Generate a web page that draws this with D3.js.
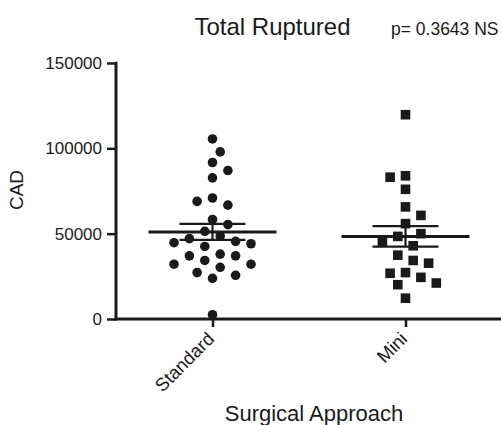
<!DOCTYPE html>
<html>
<head>
<meta charset="utf-8">
<script src="https://cdn.jsdelivr.net/npm/d3@7"></script>
<style>
  html, body { margin: 0; padding: 0; background: #fff; }
  svg { display: block; font-family: "Liberation Sans", Arial, Helvetica, sans-serif; }
</style>
</head>
<body>
<div id="chart"></div>
<script>
// ---------------- data ----------------
const categories = ["Standard", "Mini"];
const standardValues = [105500, 97900, 91700, 87000, 82700, 70900, 68900, 66700, 58300, 55300,
  51400, 48600, 47100, 45500, 44700, 44100, 42500, 38000, 37000, 37000, 34300, 32100, 32100,
  30300, 27200, 25600, 23800, 2500];
const miniValues = [119700, 83900, 83100, 76000, 65700, 60700, 55900, 50000, 48400, 45100,
  42900, 37400, 34300, 32700, 27200, 26800, 24400, 21100, 20100, 12200];
const yTicks = [0, 50000, 100000, 150000];
const titleText = "Total Ruptured";
const pText = "p= 0.3643 NS";
const yLabel = "CAD";
const xLabel = "Surgical Approach";

// ---------------- layout ----------------
const W = 501, H = 425;
const ink = "#1a1a1a";
const svg = d3.select("#chart").append("svg").attr("width", W).attr("height", H);

const x = d3.scalePoint().domain(categories).range([116, 502]).padding(0.5);
const y = d3.scaleLinear().domain([0, 150000]).range([319, 63]);

// y axis
const yAxis = d3.axisLeft(y).tickValues(yTicks).tickSize(9).tickPadding(5).tickFormat(d3.format("d"));
const gy = svg.append("g").attr("transform", "translate(116,0)").call(yAxis);
gy.select(".domain").remove();
gy.selectAll(".tick line").attr("stroke", ink).attr("stroke-width", 2.5);
gy.selectAll(".tick text").attr("fill", ink).style("font-size", "17px");
svg.append("line").attr("x1", 116).attr("x2", 116).attr("y1", y(150000) - 1.25).attr("y2", y(0) + 1.5)
  .attr("stroke", ink).attr("stroke-width", 3);

// x axis
const xAxis = d3.axisBottom(x).tickSize(8).tickFormat("");
const gx = svg.append("g").attr("transform", `translate(0,${y(0)})`).call(xAxis);
gx.select(".domain").remove();
gx.selectAll(".tick line").attr("stroke", ink).attr("stroke-width", 2.5);
svg.append("line").attr("x1", 114.5).attr("x2", W).attr("y1", y(0)).attr("y2", y(0))
  .attr("stroke", ink).attr("stroke-width", 3);

// rotated category labels
categories.forEach(c => {
  svg.append("text")
    .attr("transform", `translate(${x(c) + 3},${y(0) + 21}) rotate(-45)`)
    .attr("text-anchor", "end")
    .attr("fill", ink)
    .style("font-size", "18.5px")
    .text(c);
});

// titles
svg.append("text").attr("x", 272.5).attr("y", 35).attr("text-anchor", "middle")
  .attr("fill", ink).style("font-size", "24px").text(titleText);
svg.append("text").attr("x", 391).attr("y", 35).attr("text-anchor", "start")
  .attr("fill", ink).style("font-size", "17.5px").text(pText);
svg.append("text").attr("transform", "translate(23,190) rotate(-90)").attr("text-anchor", "middle")
  .attr("fill", ink).style("font-size", "19px").text(yLabel);
svg.append("text").attr("x", 314).attr("y", 421).attr("text-anchor", "middle")
  .attr("fill", ink).style("font-size", "22px").text(xLabel);

// ---------------- beeswarm layout ----------------
function swarm(values, cx, d, step) {
  const order = values.map((v, i) => ({ v, i })).sort((a, b) => b.v - a.v);
  const placed = [];
  order.forEach((o, n) => {
    const py = y(o.v);
    const sign = n % 2 ? 1 : -1;
    for (let k = 0; k < 40; k++) {
      const off = k === 0 ? 0 : (k % 2 ? sign : -sign) * Math.ceil(k / 2);
      const px = cx + off * step;
      const ok = placed.every(p => Math.hypot(p.x - px, p.y - py) >= d);
      if (ok) { placed.push({ x: px, y: py, v: o.v }); break; }
    }
  });
  return placed;
}

// mean and SEM lines
function meanSem(values, cx) {
  const m = d3.mean(values);
  const sem = d3.deviation(values) / Math.sqrt(values.length);
  const g = svg.append("g").attr("stroke", ink);
  g.append("line").attr("x1", cx - 64).attr("x2", cx + 64).attr("y1", y(m)).attr("y2", y(m)).attr("stroke-width", 3);
  g.append("line").attr("x1", cx).attr("x2", cx).attr("y1", y(m + sem)).attr("y2", y(m - sem)).attr("stroke-width", 2.2);
  [m + sem, m - sem].forEach(v => {
    g.append("line").attr("x1", cx - 33).attr("x2", cx + 33).attr("y1", y(v)).attr("y2", y(v)).attr("stroke-width", 2.2);
  });
}

const sPts = swarm(standardValues, x("Standard"), 13, 7.7);
svg.append("g").selectAll("circle").data(sPts).join("circle")
  .attr("cx", d => d.x).attr("cy", d => d.y).attr("r", 4.8).attr("fill", ink);

const mPts = swarm(miniValues, x("Mini"), 13, 7.7);
svg.append("g").selectAll("rect").data(mPts).join("rect")
  .attr("x", d => d.x - 4.8).attr("y", d => d.y - 4.8).attr("width", 9.6).attr("height", 9.6).attr("fill", ink);

meanSem(standardValues, x("Standard"));
meanSem(miniValues, x("Mini"));
</script>
</body>
</html>
